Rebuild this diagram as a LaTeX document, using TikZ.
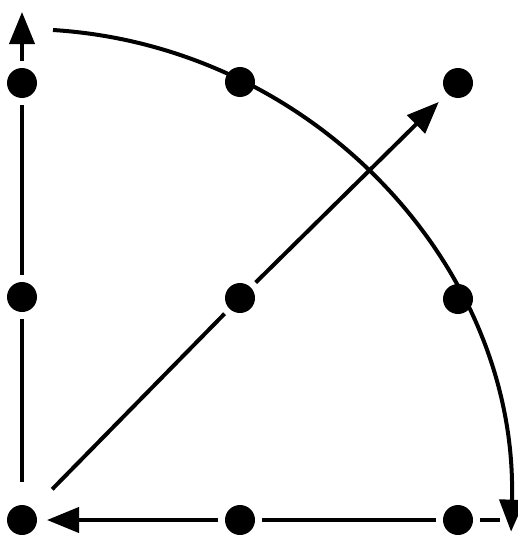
\documentclass[tikz,border=0pt]{standalone}
\usetikzlibrary{arrows.meta}
\begin{document}
\begin{tikzpicture}[x=1pt,y=-1pt,
  dot/.style={circle,fill=black,minimum size=30pt,inner sep=0pt,outer sep=7pt},
  conn/.style={line width=4pt},
  tip/.style={-{Triangle[length=32pt,width=25pt]}}]
\useasboundingbox (0,0) rectangle (518,538);
% arc centred on bottom-left dot
\draw[conn,tip] (53,30) arc[start angle=-86.4,end angle=1.6,radius=489] coordinate (arcend);
% dots
\node[dot] (tl) at (22,83) {};
\node[dot] (tc) at (240,82) {};
\node[dot] (tr) at (458,83) {};
\node[dot] (ml) at (22,297) {};
\node[dot] (mc) at (240,298) {};
\node[dot] (mr) at (458,299) {};
\node[dot] (bl) at (22,520) {};
\node[dot] (bc) at (240,520) {};
\node[dot] (br) at (458,520) {};
\coordinate (toptip) at (22,12);
\coordinate (bend) at (500,520);
% left vertical arrow
\draw[conn,shorten <=16pt] (bl) -- (ml);
\draw[conn] (ml) -- (tl);
\draw[conn,tip] (tl) -- (toptip);
% bottom arrow
\draw[conn] (bend) -- (br);
\draw[conn] (br) -- (bc);
\draw[conn,tip,shorten >=3pt] (bc) -- (bl);
% diagonal arrow
\draw[conn,shorten <=21pt] (bl) -- (mc);
\draw[conn,tip,shorten >=5pt] (mc) -- (tr);
\end{tikzpicture}
\end{document}
